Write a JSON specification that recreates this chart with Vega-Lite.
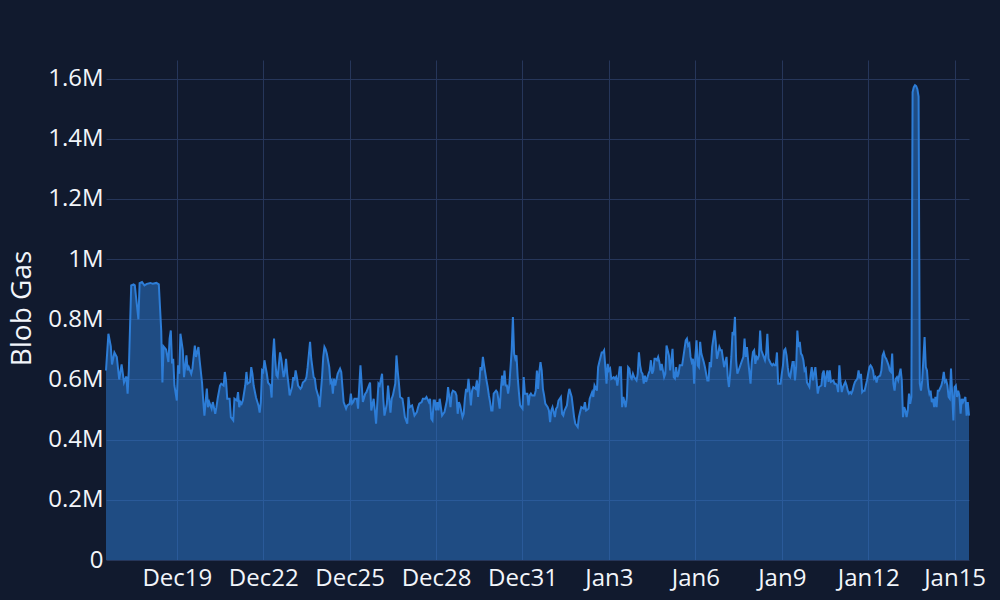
{
"$schema": "https://vega.github.io/schema/vega-lite/v6.json",
"width": 863,
"height": 500,
"autosize": {"type": "none"},
"padding": {"left": 106, "top": 60, "right": 31, "bottom": 40},
"background": "#111a2e",
"config": {"view": {"stroke": null}, "font": "Open Sans"},
"data": {"values": [
{"t":"2024-12-16T13:00","v":630000},{"t":"2024-12-16T15:00","v":752000},{"t":"2024-12-16T17:00","v":710000},{"t":"2024-12-16T18:00","v":650000},{"t":"2024-12-16T20:00","v":690000},{"t":"2024-12-16T22:00","v":675000},
{"t":"2024-12-17T00:00","v":600000},{"t":"2024-12-17T02:00","v":650000},{"t":"2024-12-17T04:00","v":590000},{"t":"2024-12-17T06:00","v":610000},{"t":"2024-12-17T07:00","v":553000},{"t":"2024-12-17T08:00","v":630000},{"t":"2024-12-17T10:00","v":913000},{"t":"2024-12-17T12:00","v":916000},{"t":"2024-12-17T13:00","v":913000},{"t":"2024-12-17T14:00","v":875000},{"t":"2024-12-17T16:00","v":800000},{"t":"2024-12-17T17:00","v":920000},{"t":"2024-12-17T19:00","v":924000},{"t":"2024-12-17T21:00","v":913000},{"t":"2024-12-17T23:00","v":918000},
{"t":"2024-12-18T02:00","v":921000},{"t":"2024-12-18T04:00","v":918000},{"t":"2024-12-18T07:00","v":921000},{"t":"2024-12-18T09:00","v":916000},{"t":"2024-12-18T11:00","v":763000},{"t":"2024-12-18T12:00","v":590000},{"t":"2024-12-18T13:00","v":710000},{"t":"2024-12-18T15:00","v":700000},{"t":"2024-12-18T17:00","v":658000},{"t":"2024-12-18T18:00","v":736000},{"t":"2024-12-18T19:00","v":763000},{"t":"2024-12-18T20:00","v":653000},{"t":"2024-12-18T21:00","v":669000},{"t":"2024-12-18T22:00","v":580000},
{"t":"2024-12-19T00:00","v":530000},{"t":"2024-12-19T01:00","v":647000},{"t":"2024-12-19T02:00","v":619000},{"t":"2024-12-19T03:00","v":752000},{"t":"2024-12-19T05:00","v":697000},{"t":"2024-12-19T06:00","v":608000},{"t":"2024-12-19T08:00","v":680000},{"t":"2024-12-19T09:00","v":630000},{"t":"2024-12-19T10:00","v":641000},{"t":"2024-12-19T12:00","v":619000},{"t":"2024-12-19T13:00","v":636000},{"t":"2024-12-19T15:00","v":713000},{"t":"2024-12-19T16:00","v":675000},{"t":"2024-12-19T18:00","v":708000},{"t":"2024-12-19T19:00","v":664000},{"t":"2024-12-19T21:00","v":590000},{"t":"2024-12-19T22:00","v":530000},{"t":"2024-12-19T23:00","v":480000},
{"t":"2024-12-20T01:00","v":570000},{"t":"2024-12-20T02:00","v":508000},{"t":"2024-12-20T03:00","v":525000},{"t":"2024-12-20T05:00","v":503000},{"t":"2024-12-20T06:00","v":525000},{"t":"2024-12-20T08:00","v":486000},{"t":"2024-12-20T09:00","v":508000},{"t":"2024-12-20T10:00","v":536000},{"t":"2024-12-20T12:00","v":580000},{"t":"2024-12-20T13:00","v":586000},{"t":"2024-12-20T15:00","v":580000},{"t":"2024-12-20T16:00","v":625000},{"t":"2024-12-20T17:00","v":597000},{"t":"2024-12-20T18:00","v":536000},{"t":"2024-12-20T20:00","v":536000},{"t":"2024-12-20T21:00","v":475000},{"t":"2024-12-20T23:00","v":464000},
{"t":"2024-12-21T00:00","v":536000},{"t":"2024-12-21T02:00","v":530000},{"t":"2024-12-21T03:00","v":558000},{"t":"2024-12-21T04:00","v":508000},{"t":"2024-12-21T05:00","v":525000},{"t":"2024-12-21T06:00","v":519000},{"t":"2024-12-21T07:00","v":530000},{"t":"2024-12-21T09:00","v":580000},{"t":"2024-12-21T10:00","v":625000},{"t":"2024-12-21T11:00","v":586000},{"t":"2024-12-21T13:00","v":592000},{"t":"2024-12-21T14:00","v":641000},{"t":"2024-12-21T15:00","v":619000},{"t":"2024-12-21T16:00","v":580000},{"t":"2024-12-21T18:00","v":540000},{"t":"2024-12-21T20:00","v":514000},{"t":"2024-12-21T21:00","v":490000},{"t":"2024-12-21T22:00","v":525000},{"t":"2024-12-21T23:00","v":630000},
{"t":"2024-12-22T00:00","v":625000},{"t":"2024-12-22T01:00","v":664000},{"t":"2024-12-22T03:00","v":619000},{"t":"2024-12-22T04:00","v":590000},{"t":"2024-12-22T06:00","v":580000},{"t":"2024-12-22T07:00","v":540000},{"t":"2024-12-22T08:00","v":675000},{"t":"2024-12-22T09:00","v":736000},{"t":"2024-12-22T10:00","v":664000},{"t":"2024-12-22T11:00","v":614000},{"t":"2024-12-22T12:00","v":608000},{"t":"2024-12-22T14:00","v":690000},{"t":"2024-12-22T15:00","v":669000},{"t":"2024-12-22T17:00","v":608000},{"t":"2024-12-22T18:00","v":625000},{"t":"2024-12-22T19:00","v":669000},{"t":"2024-12-22T20:00","v":619000},{"t":"2024-12-22T21:00","v":586000},{"t":"2024-12-22T22:00","v":547000},
{"t":"2024-12-23T00:00","v":575000},{"t":"2024-12-23T01:00","v":608000},{"t":"2024-12-23T02:00","v":597000},{"t":"2024-12-23T03:00","v":630000},{"t":"2024-12-23T04:00","v":608000},{"t":"2024-12-23T05:00","v":580000},{"t":"2024-12-23T07:00","v":569000},{"t":"2024-12-23T08:00","v":575000},{"t":"2024-12-23T09:00","v":590000},{"t":"2024-12-23T11:00","v":597000},{"t":"2024-12-23T12:00","v":608000},{"t":"2024-12-23T13:00","v":641000},{"t":"2024-12-23T15:00","v":725000},{"t":"2024-12-23T16:00","v":669000},{"t":"2024-12-23T18:00","v":608000},{"t":"2024-12-23T19:00","v":603000},{"t":"2024-12-23T20:00","v":570000},{"t":"2024-12-23T22:00","v":542000},{"t":"2024-12-23T23:00","v":508000},
{"t":"2024-12-24T01:00","v":608000},{"t":"2024-12-24T02:00","v":675000},{"t":"2024-12-24T03:00","v":708000},{"t":"2024-12-24T04:00","v":700000},{"t":"2024-12-24T05:00","v":686000},{"t":"2024-12-24T07:00","v":641000},{"t":"2024-12-24T08:00","v":590000},{"t":"2024-12-24T09:00","v":597000},{"t":"2024-12-24T10:00","v":553000},{"t":"2024-12-24T11:00","v":603000},{"t":"2024-12-24T12:00","v":580000},{"t":"2024-12-24T14:00","v":619000},{"t":"2024-12-24T16:00","v":636000},{"t":"2024-12-24T17:00","v":625000},{"t":"2024-12-24T18:00","v":575000},{"t":"2024-12-24T19:00","v":525000},{"t":"2024-12-24T21:00","v":503000},{"t":"2024-12-24T22:00","v":514000},
{"t":"2024-12-25T00:00","v":519000},{"t":"2024-12-25T01:00","v":553000},{"t":"2024-12-25T02:00","v":520000},{"t":"2024-12-25T03:00","v":525000},{"t":"2024-12-25T04:00","v":536000},{"t":"2024-12-25T06:00","v":536000},{"t":"2024-12-25T07:00","v":503000},{"t":"2024-12-25T09:00","v":647000},{"t":"2024-12-25T10:00","v":586000},{"t":"2024-12-25T11:00","v":525000},{"t":"2024-12-25T13:00","v":553000},{"t":"2024-12-25T14:00","v":558000},{"t":"2024-12-25T15:00","v":569000},{"t":"2024-12-25T17:00","v":590000},{"t":"2024-12-25T18:00","v":497000},{"t":"2024-12-25T20:00","v":536000},{"t":"2024-12-25T21:00","v":497000},{"t":"2024-12-25T22:00","v":453000},{"t":"2024-12-25T23:00","v":519000},
{"t":"2024-12-26T00:00","v":586000},{"t":"2024-12-26T01:00","v":580000},{"t":"2024-12-26T03:00","v":619000},{"t":"2024-12-26T04:00","v":536000},{"t":"2024-12-26T05:00","v":480000},{"t":"2024-12-26T07:00","v":519000},{"t":"2024-12-26T08:00","v":580000},{"t":"2024-12-26T10:00","v":490000},{"t":"2024-12-26T11:00","v":536000},{"t":"2024-12-26T12:00","v":547000},{"t":"2024-12-26T14:00","v":586000},{"t":"2024-12-26T15:00","v":680000},{"t":"2024-12-26T16:00","v":630000},{"t":"2024-12-26T17:00","v":590000},{"t":"2024-12-26T18:00","v":542000},{"t":"2024-12-26T20:00","v":536000},{"t":"2024-12-26T21:00","v":508000},{"t":"2024-12-26T22:00","v":475000},
{"t":"2024-12-27T00:00","v":453000},{"t":"2024-12-27T01:00","v":542000},{"t":"2024-12-27T02:00","v":508000},{"t":"2024-12-27T04:00","v":514000},{"t":"2024-12-27T05:00","v":497000},{"t":"2024-12-27T06:00","v":480000},{"t":"2024-12-27T08:00","v":492000},{"t":"2024-12-27T09:00","v":508000},{"t":"2024-12-27T10:00","v":520000},{"t":"2024-12-27T12:00","v":525000},{"t":"2024-12-27T13:00","v":536000},{"t":"2024-12-27T15:00","v":536000},{"t":"2024-12-27T16:00","v":542000},{"t":"2024-12-27T18:00","v":525000},{"t":"2024-12-27T19:00","v":536000},{"t":"2024-12-27T20:00","v":470000},{"t":"2024-12-27T21:00","v":464000},{"t":"2024-12-27T22:00","v":530000},{"t":"2024-12-27T23:00","v":530000},
{"t":"2024-12-28T00:00","v":497000},{"t":"2024-12-28T01:00","v":525000},{"t":"2024-12-28T02:00","v":497000},{"t":"2024-12-28T03:00","v":536000},{"t":"2024-12-28T05:00","v":480000},{"t":"2024-12-28T06:00","v":486000},{"t":"2024-12-28T07:00","v":492000},{"t":"2024-12-28T09:00","v":530000},{"t":"2024-12-28T10:00","v":575000},{"t":"2024-12-28T11:00","v":542000},{"t":"2024-12-28T12:00","v":508000},{"t":"2024-12-28T13:00","v":553000},{"t":"2024-12-28T14:00","v":563000},{"t":"2024-12-28T16:00","v":558000},{"t":"2024-12-28T17:00","v":547000},{"t":"2024-12-28T18:00","v":486000},{"t":"2024-12-28T19:00","v":525000},{"t":"2024-12-28T20:00","v":514000},{"t":"2024-12-28T22:00","v":475000},{"t":"2024-12-28T23:00","v":486000},
{"t":"2024-12-29T00:00","v":536000},{"t":"2024-12-29T01:00","v":569000},{"t":"2024-12-29T02:00","v":558000},{"t":"2024-12-29T03:00","v":602000},{"t":"2024-12-29T04:00","v":563000},{"t":"2024-12-29T05:00","v":514000},{"t":"2024-12-29T06:00","v":563000},{"t":"2024-12-29T07:00","v":575000},{"t":"2024-12-29T09:00","v":569000},{"t":"2024-12-29T10:00","v":597000},{"t":"2024-12-29T11:00","v":542000},{"t":"2024-12-29T12:00","v":586000},{"t":"2024-12-29T13:00","v":641000},{"t":"2024-12-29T14:00","v":630000},{"t":"2024-12-29T15:00","v":675000},{"t":"2024-12-29T16:00","v":647000},{"t":"2024-12-29T18:00","v":597000},{"t":"2024-12-29T19:00","v":575000},{"t":"2024-12-29T20:00","v":547000},{"t":"2024-12-29T21:00","v":525000},{"t":"2024-12-29T22:00","v":497000},{"t":"2024-12-29T23:00","v":497000},
{"t":"2024-12-30T00:00","v":553000},{"t":"2024-12-30T01:00","v":558000},{"t":"2024-12-30T02:00","v":563000},{"t":"2024-12-30T03:00","v":558000},{"t":"2024-12-30T05:00","v":503000},{"t":"2024-12-30T06:00","v":569000},{"t":"2024-12-30T07:00","v":613000},{"t":"2024-12-30T08:00","v":580000},{"t":"2024-12-30T09:00","v":630000},{"t":"2024-12-30T10:00","v":580000},{"t":"2024-12-30T11:00","v":580000},{"t":"2024-12-30T12:00","v":553000},{"t":"2024-12-30T13:00","v":580000},{"t":"2024-12-30T15:00","v":697000},{"t":"2024-12-30T16:00","v":808000},{"t":"2024-12-30T17:00","v":686000},{"t":"2024-12-30T18:00","v":669000},{"t":"2024-12-30T19:00","v":680000},{"t":"2024-12-30T20:00","v":608000},{"t":"2024-12-30T21:00","v":558000},{"t":"2024-12-30T22:00","v":514000},
{"t":"2024-12-31T00:00","v":503000},{"t":"2024-12-31T01:00","v":608000},{"t":"2024-12-31T02:00","v":553000},{"t":"2024-12-31T03:00","v":553000},{"t":"2024-12-31T04:00","v":553000},{"t":"2024-12-31T05:00","v":514000},{"t":"2024-12-31T06:00","v":547000},{"t":"2024-12-31T07:00","v":553000},{"t":"2024-12-31T08:00","v":547000},{"t":"2024-12-31T10:00","v":547000},{"t":"2024-12-31T11:00","v":563000},{"t":"2024-12-31T12:00","v":630000},{"t":"2024-12-31T13:00","v":569000},{"t":"2024-12-31T14:00","v":625000},{"t":"2024-12-31T15:00","v":658000},{"t":"2024-12-31T16:00","v":630000},{"t":"2024-12-31T17:00","v":569000},{"t":"2024-12-31T18:00","v":547000},{"t":"2024-12-31T19:00","v":520000},{"t":"2024-12-31T21:00","v":508000},{"t":"2024-12-31T22:00","v":497000},{"t":"2024-12-31T23:00","v":458000},
{"t":"2025-01-01T00:00","v":497000},{"t":"2025-01-01T01:00","v":508000},{"t":"2025-01-01T03:00","v":475000},{"t":"2025-01-01T04:00","v":503000},{"t":"2025-01-01T05:00","v":508000},{"t":"2025-01-01T06:00","v":530000},{"t":"2025-01-01T08:00","v":542000},{"t":"2025-01-01T09:00","v":486000},{"t":"2025-01-01T10:00","v":480000},{"t":"2025-01-01T11:00","v":497000},{"t":"2025-01-01T13:00","v":514000},{"t":"2025-01-01T14:00","v":547000},{"t":"2025-01-01T15:00","v":569000},{"t":"2025-01-01T17:00","v":542000},{"t":"2025-01-01T18:00","v":508000},{"t":"2025-01-01T19:00","v":475000},{"t":"2025-01-01T20:00","v":453000},{"t":"2025-01-01T22:00","v":442000},{"t":"2025-01-01T23:00","v":475000},
{"t":"2025-01-02T00:00","v":492000},{"t":"2025-01-02T01:00","v":508000},{"t":"2025-01-02T03:00","v":503000},{"t":"2025-01-02T04:00","v":525000},{"t":"2025-01-02T05:00","v":497000},{"t":"2025-01-02T07:00","v":503000},{"t":"2025-01-02T08:00","v":536000},{"t":"2025-01-02T10:00","v":558000},{"t":"2025-01-02T11:00","v":542000},{"t":"2025-01-02T12:00","v":580000},{"t":"2025-01-02T14:00","v":563000},{"t":"2025-01-02T15:00","v":641000},{"t":"2025-01-02T16:00","v":658000},{"t":"2025-01-02T18:00","v":690000},{"t":"2025-01-02T19:00","v":690000},{"t":"2025-01-02T20:00","v":697000},{"t":"2025-01-02T21:00","v":641000},{"t":"2025-01-02T22:00","v":586000},{"t":"2025-01-02T23:00","v":652000},
{"t":"2025-01-03T00:00","v":630000},{"t":"2025-01-03T01:00","v":636000},{"t":"2025-01-03T02:00","v":602000},{"t":"2025-01-03T04:00","v":608000},{"t":"2025-01-03T05:00","v":602000},{"t":"2025-01-03T06:00","v":608000},{"t":"2025-01-03T07:00","v":580000},{"t":"2025-01-03T08:00","v":608000},{"t":"2025-01-03T09:00","v":641000},{"t":"2025-01-03T10:00","v":641000},{"t":"2025-01-03T11:00","v":508000},{"t":"2025-01-03T12:00","v":542000},{"t":"2025-01-03T14:00","v":508000},{"t":"2025-01-03T15:00","v":542000},{"t":"2025-01-03T16:00","v":641000},{"t":"2025-01-03T17:00","v":636000},{"t":"2025-01-03T18:00","v":608000},{"t":"2025-01-03T19:00","v":602000},{"t":"2025-01-03T20:00","v":619000},{"t":"2025-01-03T21:00","v":608000},{"t":"2025-01-03T23:00","v":597000},
{"t":"2025-01-04T00:00","v":619000},{"t":"2025-01-04T01:00","v":690000},{"t":"2025-01-04T02:00","v":647000},{"t":"2025-01-04T03:00","v":625000},{"t":"2025-01-04T04:00","v":619000},{"t":"2025-01-04T05:00","v":586000},{"t":"2025-01-04T06:00","v":613000},{"t":"2025-01-04T07:00","v":592000},{"t":"2025-01-04T09:00","v":619000},{"t":"2025-01-04T10:00","v":630000},{"t":"2025-01-04T11:00","v":664000},{"t":"2025-01-04T12:00","v":619000},{"t":"2025-01-04T13:00","v":630000},{"t":"2025-01-04T14:00","v":669000},{"t":"2025-01-04T15:00","v":669000},{"t":"2025-01-04T16:00","v":664000},{"t":"2025-01-04T17:00","v":675000},{"t":"2025-01-04T18:00","v":658000},{"t":"2025-01-04T19:00","v":630000},{"t":"2025-01-04T20:00","v":652000},{"t":"2025-01-04T21:00","v":630000},{"t":"2025-01-04T22:00","v":608000},{"t":"2025-01-04T23:00","v":619000},
{"t":"2025-01-05T00:00","v":713000},{"t":"2025-01-05T02:00","v":680000},{"t":"2025-01-05T03:00","v":630000},{"t":"2025-01-05T04:00","v":664000},{"t":"2025-01-05T05:00","v":702000},{"t":"2025-01-05T06:00","v":608000},{"t":"2025-01-05T07:00","v":603000},{"t":"2025-01-05T08:00","v":641000},{"t":"2025-01-05T09:00","v":608000},{"t":"2025-01-05T10:00","v":619000},{"t":"2025-01-05T11:00","v":647000},{"t":"2025-01-05T12:00","v":647000},{"t":"2025-01-05T13:00","v":647000},{"t":"2025-01-05T15:00","v":702000},{"t":"2025-01-05T16:00","v":730000},{"t":"2025-01-05T17:00","v":736000},{"t":"2025-01-05T18:00","v":713000},{"t":"2025-01-05T19:00","v":719000},{"t":"2025-01-05T20:00","v":675000},{"t":"2025-01-05T21:00","v":658000},{"t":"2025-01-05T22:00","v":669000},{"t":"2025-01-05T23:00","v":586000},
{"t":"2025-01-06T00:00","v":675000},{"t":"2025-01-06T01:00","v":730000},{"t":"2025-01-06T02:00","v":647000},{"t":"2025-01-06T03:00","v":641000},{"t":"2025-01-06T04:00","v":725000},{"t":"2025-01-06T05:00","v":686000},{"t":"2025-01-06T07:00","v":658000},{"t":"2025-01-06T08:00","v":641000},{"t":"2025-01-06T09:00","v":619000},{"t":"2025-01-06T10:00","v":597000},{"t":"2025-01-06T11:00","v":597000},{"t":"2025-01-06T12:00","v":658000},{"t":"2025-01-06T13:00","v":641000},{"t":"2025-01-06T14:00","v":708000},{"t":"2025-01-06T16:00","v":763000},{"t":"2025-01-06T17:00","v":725000},{"t":"2025-01-06T18:00","v":669000},{"t":"2025-01-06T19:00","v":686000},{"t":"2025-01-06T20:00","v":708000},{"t":"2025-01-06T21:00","v":697000},{"t":"2025-01-06T22:00","v":697000},{"t":"2025-01-06T23:00","v":669000},
{"t":"2025-01-07T00:00","v":641000},{"t":"2025-01-07T02:00","v":675000},{"t":"2025-01-07T03:00","v":608000},{"t":"2025-01-07T04:00","v":575000},{"t":"2025-01-07T05:00","v":619000},{"t":"2025-01-07T06:00","v":675000},{"t":"2025-01-07T07:00","v":758000},{"t":"2025-01-07T08:00","v":747000},{"t":"2025-01-07T09:00","v":808000},{"t":"2025-01-07T10:00","v":664000},{"t":"2025-01-07T11:00","v":619000},{"t":"2025-01-07T12:00","v":630000},{"t":"2025-01-07T13:00","v":641000},{"t":"2025-01-07T15:00","v":664000},{"t":"2025-01-07T16:00","v":675000},{"t":"2025-01-07T17:00","v":736000},{"t":"2025-01-07T18:00","v":675000},{"t":"2025-01-07T19:00","v":708000},{"t":"2025-01-07T20:00","v":664000},{"t":"2025-01-07T22:00","v":586000},{"t":"2025-01-07T23:00","v":658000},
{"t":"2025-01-08T00:00","v":691000},{"t":"2025-01-08T01:00","v":697000},{"t":"2025-01-08T02:00","v":652000},{"t":"2025-01-08T03:00","v":675000},{"t":"2025-01-08T04:00","v":669000},{"t":"2025-01-08T05:00","v":680000},{"t":"2025-01-08T06:00","v":763000},{"t":"2025-01-08T07:00","v":697000},{"t":"2025-01-08T09:00","v":675000},{"t":"2025-01-08T10:00","v":664000},{"t":"2025-01-08T11:00","v":686000},{"t":"2025-01-08T12:00","v":752000},{"t":"2025-01-08T13:00","v":669000},{"t":"2025-01-08T15:00","v":652000},{"t":"2025-01-08T16:00","v":647000},{"t":"2025-01-08T17:00","v":652000},{"t":"2025-01-08T18:00","v":647000},{"t":"2025-01-08T19:00","v":647000},{"t":"2025-01-08T20:00","v":690000},{"t":"2025-01-08T21:00","v":586000},{"t":"2025-01-08T23:00","v":586000},
{"t":"2025-01-09T00:00","v":619000},{"t":"2025-01-09T01:00","v":647000},{"t":"2025-01-09T02:00","v":697000},{"t":"2025-01-09T03:00","v":702000},{"t":"2025-01-09T04:00","v":680000},{"t":"2025-01-09T05:00","v":641000},{"t":"2025-01-09T06:00","v":613000},{"t":"2025-01-09T07:00","v":608000},{"t":"2025-01-09T09:00","v":658000},{"t":"2025-01-09T10:00","v":658000},{"t":"2025-01-09T11:00","v":597000},{"t":"2025-01-09T12:00","v":641000},{"t":"2025-01-09T13:00","v":763000},{"t":"2025-01-09T14:00","v":708000},{"t":"2025-01-09T15:00","v":725000},{"t":"2025-01-09T16:00","v":686000},{"t":"2025-01-09T17:00","v":680000},{"t":"2025-01-09T18:00","v":664000},{"t":"2025-01-09T19:00","v":630000},{"t":"2025-01-09T20:00","v":636000},{"t":"2025-01-09T21:00","v":590000},{"t":"2025-01-09T23:00","v":575000},
{"t":"2025-01-10T00:00","v":613000},{"t":"2025-01-10T01:00","v":641000},{"t":"2025-01-10T02:00","v":597000},{"t":"2025-01-10T03:00","v":619000},{"t":"2025-01-10T04:00","v":641000},{"t":"2025-01-10T05:00","v":597000},{"t":"2025-01-10T06:00","v":553000},{"t":"2025-01-10T07:00","v":575000},{"t":"2025-01-10T09:00","v":580000},{"t":"2025-01-10T10:00","v":619000},{"t":"2025-01-10T11:00","v":630000},{"t":"2025-01-10T12:00","v":575000},{"t":"2025-01-10T13:00","v":608000},{"t":"2025-01-10T14:00","v":630000},{"t":"2025-01-10T15:00","v":592000},{"t":"2025-01-10T16:00","v":630000},{"t":"2025-01-10T17:00","v":592000},{"t":"2025-01-10T19:00","v":597000},{"t":"2025-01-10T20:00","v":586000},{"t":"2025-01-10T21:00","v":586000},{"t":"2025-01-10T22:00","v":580000},{"t":"2025-01-10T23:00","v":558000},
{"t":"2025-01-11T00:00","v":647000},{"t":"2025-01-11T01:00","v":592000},{"t":"2025-01-11T02:00","v":558000},{"t":"2025-01-11T03:00","v":575000},{"t":"2025-01-11T05:00","v":592000},{"t":"2025-01-11T06:00","v":580000},{"t":"2025-01-11T07:00","v":563000},{"t":"2025-01-11T08:00","v":553000},{"t":"2025-01-11T09:00","v":558000},{"t":"2025-01-11T10:00","v":553000},{"t":"2025-01-11T11:00","v":563000},{"t":"2025-01-11T12:00","v":580000},{"t":"2025-01-11T13:00","v":592000},{"t":"2025-01-11T15:00","v":603000},{"t":"2025-01-11T16:00","v":630000},{"t":"2025-01-11T17:00","v":603000},{"t":"2025-01-11T18:00","v":619000},{"t":"2025-01-11T19:00","v":558000},{"t":"2025-01-11T20:00","v":563000},{"t":"2025-01-11T21:00","v":563000},{"t":"2025-01-11T22:00","v":580000},{"t":"2025-01-11T23:00","v":597000},
{"t":"2025-01-12T01:00","v":641000},{"t":"2025-01-12T02:00","v":647000},{"t":"2025-01-12T03:00","v":641000},{"t":"2025-01-12T04:00","v":630000},{"t":"2025-01-12T05:00","v":603000},{"t":"2025-01-12T06:00","v":608000},{"t":"2025-01-12T07:00","v":590000},{"t":"2025-01-12T08:00","v":608000},{"t":"2025-01-12T10:00","v":613000},{"t":"2025-01-12T11:00","v":630000},{"t":"2025-01-12T12:00","v":680000},{"t":"2025-01-12T13:00","v":690000},{"t":"2025-01-12T14:00","v":675000},{"t":"2025-01-12T15:00","v":669000},{"t":"2025-01-12T17:00","v":647000},{"t":"2025-01-12T18:00","v":630000},{"t":"2025-01-12T19:00","v":625000},{"t":"2025-01-12T20:00","v":686000},{"t":"2025-01-12T21:00","v":586000},{"t":"2025-01-12T22:00","v":563000},{"t":"2025-01-12T23:00","v":602000},
{"t":"2025-01-13T00:00","v":608000},{"t":"2025-01-13T01:00","v":597000},{"t":"2025-01-13T03:00","v":636000},{"t":"2025-01-13T04:00","v":597000},{"t":"2025-01-13T05:00","v":475000},{"t":"2025-01-13T06:00","v":508000},{"t":"2025-01-13T07:00","v":497000},{"t":"2025-01-13T08:00","v":475000},{"t":"2025-01-13T09:00","v":497000},{"t":"2025-01-13T10:00","v":553000},{"t":"2025-01-13T11:00","v":519000},{"t":"2025-01-13T12:00","v":542000},{"t":"2025-01-13T13:00","v":1555000},{"t":"2025-01-13T14:00","v":1572000},{"t":"2025-01-13T15:00","v":1578000},{"t":"2025-01-13T16:00","v":1575000},{"t":"2025-01-13T17:00","v":1565000},{"t":"2025-01-13T18:00","v":1540000},{"t":"2025-01-13T19:00","v":586000},{"t":"2025-01-13T20:00","v":563000},{"t":"2025-01-13T21:00","v":597000},{"t":"2025-01-13T23:00","v":741000},
{"t":"2025-01-14T00:00","v":641000},{"t":"2025-01-14T01:00","v":630000},{"t":"2025-01-14T02:00","v":575000},{"t":"2025-01-14T03:00","v":553000},{"t":"2025-01-14T04:00","v":563000},{"t":"2025-01-14T05:00","v":525000},{"t":"2025-01-14T06:00","v":536000},{"t":"2025-01-14T07:00","v":508000},{"t":"2025-01-14T08:00","v":542000},{"t":"2025-01-14T09:00","v":508000},{"t":"2025-01-14T10:00","v":563000},{"t":"2025-01-14T11:00","v":563000},{"t":"2025-01-14T13:00","v":580000},{"t":"2025-01-14T14:00","v":597000},{"t":"2025-01-14T15:00","v":625000},{"t":"2025-01-14T16:00","v":592000},{"t":"2025-01-14T17:00","v":597000},{"t":"2025-01-14T18:00","v":580000},{"t":"2025-01-14T19:00","v":542000},{"t":"2025-01-14T20:00","v":536000},{"t":"2025-01-14T21:00","v":636000},{"t":"2025-01-14T23:00","v":464000},
{"t":"2025-01-15T00:00","v":575000},{"t":"2025-01-15T01:00","v":580000},{"t":"2025-01-15T02:00","v":542000},{"t":"2025-01-15T03:00","v":563000},{"t":"2025-01-15T04:00","v":547000},{"t":"2025-01-15T05:00","v":486000},{"t":"2025-01-15T06:00","v":536000},{"t":"2025-01-15T07:00","v":525000},{"t":"2025-01-15T09:00","v":542000},{"t":"2025-01-15T10:00","v":480000},{"t":"2025-01-15T11:00","v":525000},{"t":"2025-01-15T12:00","v":480000}
]},
"encoding": {
  "x": {
    "field": "t", "type": "temporal",
    "scale": {"nice": false},
    "axis": {
      "title": null,
      "values": [
        {"year": 2024, "month": "dec", "date": 19},
        {"year": 2024, "month": "dec", "date": 22},
        {"year": 2024, "month": "dec", "date": 25},
        {"year": 2024, "month": "dec", "date": 28},
        {"year": 2024, "month": "dec", "date": 31},
        {"year": 2025, "month": "jan", "date": 3},
        {"year": 2025, "month": "jan", "date": 6},
        {"year": 2025, "month": "jan", "date": 9},
        {"year": 2025, "month": "jan", "date": 12},
        {"year": 2025, "month": "jan", "date": 15}
      ],
      "format": "%b%-d",
      "labelFont": "Open Sans",
      "labelFontSize": 24,
      "labelColor": "#f2f5fa",
      "labelPadding": 6,
      "labelFlush": false,
      "labelOverlap": false,
      "domain": false,
      "ticks": false,
      "tickSize": 0,
      "grid": true,
      "gridColor": "#26365a",
      "gridWidth": 1
    }
  },
  "y": {
    "field": "v", "type": "quantitative",
    "scale": {"domain": [0, 1662000], "nice": false, "zero": true},
    "axis": {
      "title": "Blob Gas",
      "values": [0, 200000, 400000, 600000, 800000, 1000000, 1200000, 1400000, 1600000],
      "labelExpr": "datum.value == 0 ? '0' : format(datum.value / 1000000, '~g') + 'M'",
      "labelFont": "Open Sans",
      "labelFontSize": 24,
      "labelColor": "#f2f5fa",
      "labelPadding": 3,
      "domain": false,
      "ticks": false,
      "tickSize": 0,
      "grid": true,
      "gridColor": "#26365a",
      "gridWidth": 1,
      "titleFont": "Open Sans",
      "titleFontSize": 28,
      "titleFontWeight": "normal",
      "titleColor": "#f2f5fa",
      "titleAngle": -90,
      "titleAlign": "center",
      "titleBaseline": "alphabetic",
      "titleX": -76,
      "titleY": 248
    }
  }
},
"layer": [
  {"mark": {"type": "area", "color": "#2d7dd7", "fillOpacity": 0.5, "interpolate": "linear"}},
  {"mark": {"type": "line", "color": "#2d7dd7", "strokeWidth": 2, "interpolate": "linear"}}
]
}
